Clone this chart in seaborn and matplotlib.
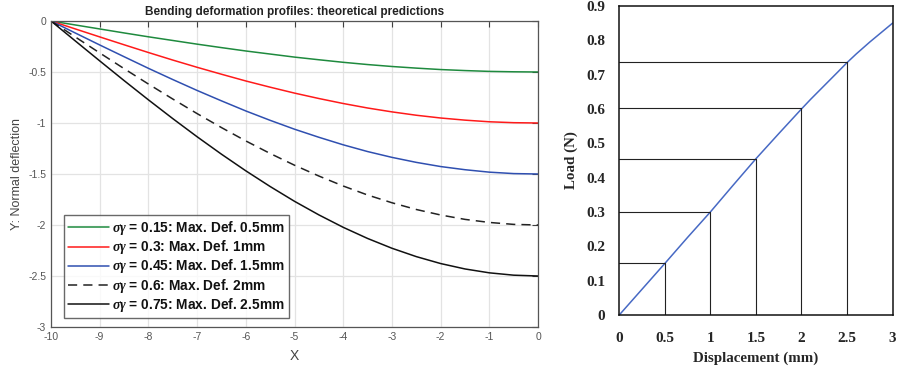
import numpy as np
import pandas as pd
import matplotlib
matplotlib.use("Agg")
import matplotlib.pyplot as plt
import seaborn as sns

# ---- data: left panel (deflection profiles) ----
x_pos = [-10, -9.5, -9, -8.5, -8, -7.5, -7, -6.5, -6, -5.5, -5,
         -4.5, -4, -3.5, -3, -2.5, -2, -1.5, -1, -0.5, 0]
y_015 = [0, -0.039, -0.078, -0.117, -0.155, -0.191, -0.227, -0.261, -0.294, -0.324, -0.354,
         -0.380, -0.405, -0.427, -0.446, -0.462, -0.476, -0.486, -0.494, -0.498, -0.5]
y_030 = [0, -0.078, -0.156, -0.233, -0.309, -0.383, -0.454, -0.522, -0.588, -0.649, -0.707,
         -0.760, -0.809, -0.853, -0.891, -0.924, -0.951, -0.972, -0.988, -0.997, -1.0]
y_045 = [0, -0.118, -0.235, -0.350, -0.464, -0.574, -0.681, -0.783, -0.882, -0.974, -1.061,
         -1.140, -1.214, -1.280, -1.337, -1.386, -1.427, -1.458, -1.482, -1.496, -1.5]
y_060 = [0, -0.157, -0.313, -0.467, -0.618, -0.765, -0.908, -1.045, -1.176, -1.299, -1.414,
         -1.520, -1.618, -1.706, -1.782, -1.848, -1.902, -1.945, -1.975, -1.994, -2.0]
y_075 = [0, -0.196, -0.391, -0.584, -0.773, -0.957, -1.135, -1.306, -1.469, -1.623, -1.768,
         -1.901, -2.023, -2.132, -2.228, -2.310, -2.378, -2.431, -2.469, -2.492, -2.5]
labels = [r"$\sigma\gamma$ = 0.15: Max. Def. 0.5mm",
          r"$\sigma\gamma$ = 0.3: Max. Def. 1mm",
          r"$\sigma\gamma$ = 0.45: Max. Def. 1.5mm",
          r"$\sigma\gamma$ = 0.6: Max. Def. 2mm",
          r"$\sigma\gamma$ = 0.75: Max. Def. 2.5mm"]
x_ticks_left = [-10, -9, -8, -7, -6, -5, -4, -3, -2, -1, 0]
y_ticks_left = [0, -0.5, -1, -1.5, -2, -2.5, -3]

# ---- data: right panel (load-displacement) ----
disp = [0, 0.25, 0.5, 0.75, 1.0, 1.25, 1.5, 1.75, 2.0, 2.1, 2.25, 2.4, 2.5, 2.6, 2.75, 2.9, 3.0]
load = [0, 0.075, 0.150, 0.226, 0.300, 0.378, 0.455, 0.528, 0.600, 0.628, 0.668, 0.708, 0.735,
        0.760, 0.795, 0.828, 0.850]
mark_x = [0.5, 1.0, 1.5, 2.0, 2.5]
mark_y = [0.152, 0.301, 0.455, 0.602, 0.737]
x_ticks_right = [0, 0.5, 1, 1.5, 2, 2.5, 3]
y_ticks_right = [0, 0.1, 0.2, 0.3, 0.4, 0.5, 0.6, 0.7, 0.8, 0.9]

sns.set_style("white")
plt.rcParams["font.family"] = ["Liberation Sans", "DejaVu Sans"]
plt.rcParams["mathtext.fontset"] = "custom"
plt.rcParams["mathtext.it"] = "Liberation Serif:italic:bold"
plt.rcParams["mathtext.rm"] = "Liberation Sans:bold"

fig = plt.figure(figsize=(8.98, 3.71), dpi=100)
ax1 = fig.add_axes([0.0568, 0.1186, 0.5424, 0.8248])
ax2 = fig.add_axes([0.6896, 0.151, 0.3044, 0.833])

series = [y_015, y_030, y_045, y_060, y_075]
colors = ["#1e8a3e", "#ff1a1a", "#2f4fb0", "#222222", "#111111"]
styles = ["-", "-", "-", (0, (6, 4)), "-"]
for ys, c, ls, lab in zip(series, colors, styles, labels):
    df = pd.DataFrame({"x": x_pos, "y": ys})
    sns.lineplot(data=df, x="x", y="y", ax=ax1, color=c, linewidth=1.1,
                 linestyle=ls, label=lab, sort=False)

ax1.set_xlim(-10, 0)
ax1.set_ylim(-3, 0)
ax1.set_xticks(x_ticks_left)
ax1.set_yticks(y_ticks_left)
ax1.set_xticklabels([str(t) for t in x_ticks_left])
ax1.set_yticklabels(["0", "-0.5", "-1", "-1.5", "-2", "-2.5", "-3"])
ax1.grid(True, color="#e3e3e3", linewidth=0.9)
ax1.tick_params(direction="in", length=4, width=0.8, colors="#404040",
                labelcolor="#555555", labelsize=7.5, top=True, right=True)
for s in ax1.spines.values():
    s.set_color("#555555")
    s.set_linewidth(0.9)
ax1.set_title("Bending deformation profiles: theoretical predictions",
              fontsize=8.5, fontweight="bold", color="#222222", pad=4)
ax1.set_xlabel("X", fontsize=10, color="#444444", labelpad=5)
ax1.set_ylabel("Y: Normal deflection", fontsize=9, color="#444444", labelpad=4)
leg = ax1.legend(loc="lower left", bbox_to_anchor=(0.026, 0.03), frameon=True,
                 fancybox=False, edgecolor="#444444", fontsize=9.9,
                 handlelength=3.0, handletextpad=0.25, labelspacing=0.08,
                 borderpad=0.3, borderaxespad=0)
leg.get_frame().set_linewidth(1.0)
for t in leg.get_texts():
    t.set_fontweight("bold")
    t.set_color("#111111")

# right panel
df2 = pd.DataFrame({"d": disp, "l": load})
sns.lineplot(data=df2, x="d", y="l", ax=ax2, color="#4769c4", linewidth=1.1)
for mx, my in zip(mark_x, mark_y):
    ax2.plot([0, mx], [my, my], color="#222222", linewidth=0.8)
    ax2.plot([mx, mx], [0, my], color="#222222", linewidth=0.8)
ax2.set_xlim(0, 3)
ax2.set_ylim(0, 0.9)
ax2.set_xticks(x_ticks_right)
ax2.set_yticks(y_ticks_right)
ax2.set_xticklabels(["0", "0.5", "1", "1.5", "2", "2.5", "3"])
ax2.set_yticklabels(["0", "0.1", "0.2", "0.3", "0.4", "0.5", "0.6", "0.7", "0.8", "0.9"])
ax2.tick_params(axis="x", length=0, labelsize=11, pad=12)
ax2.tick_params(axis="y", length=0, labelsize=11, pad=10)
for lab in ax2.get_xticklabels() + ax2.get_yticklabels():
    lab.set_fontfamily("Liberation Serif")
    lab.set_fontweight("bold")
for s in ax2.spines.values():
    s.set_color("#111111")
    s.set_linewidth(1.1)
ax2.set_xlabel("Displacement (mm)", fontsize=10.8, fontweight="bold",
               family="Liberation Serif", labelpad=5)
ax2.set_ylabel("Load (N)", fontsize=10.8, fontweight="bold",
               family="Liberation Serif", labelpad=6)

fig.savefig("out.png", dpi=100)
